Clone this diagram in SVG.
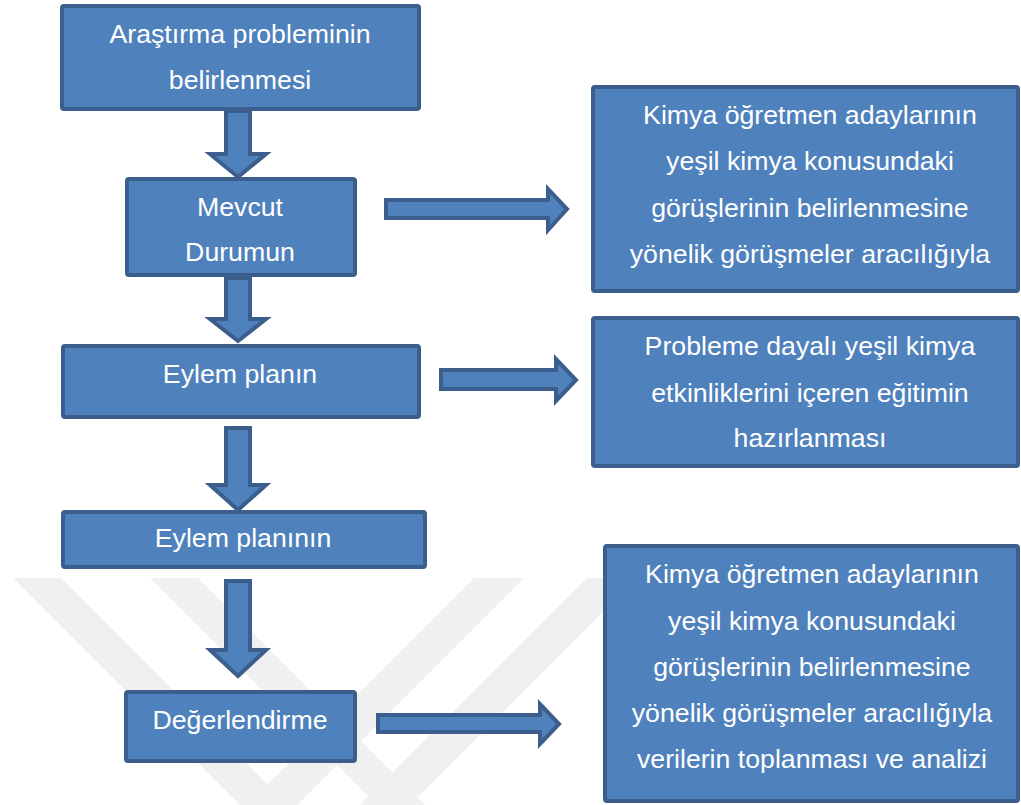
<svg xmlns="http://www.w3.org/2000/svg" width="1021" height="805" viewBox="0 0 1021 805">
<style>
.box{fill:#4f81bd;stroke:#3b5e8c;stroke-width:4}
.arr{fill:#4f81bd;stroke:#3b5e8c;stroke-width:4;stroke-linejoin:miter}
.wm{fill:#f0f0f0}
text{font-family:"Liberation Sans",Arial,sans-serif;font-size:26.7px;fill:#ffffff;text-anchor:middle}
</style>
<rect width="1021" height="805" fill="#ffffff"/>
<g id="watermark">
<polygon class="wm" points="13,578 61,578 288,805 240,805"/>
<polygon class="wm" points="474,578 524,578 297,805 247,805"/>
<polygon class="wm" points="150,578 198,578 425,805 377,805"/>
<polygon class="wm" points="587,578 637,578 410,805 360,805"/>
</g>
<g id="connectors">
<path class="arr" d="M226,111 L250,111 L250,154 L266,154 L238,177 L210,154 L226,154 Z"/>
<path class="arr" d="M226,278 L250,278 L250,319 L266,319 L238,341 L210,319 L226,319 Z"/>
<path class="arr" d="M226,428 L250,428 L250,485 L266,485 L238,510 L210,485 L226,485 Z"/>
<path class="arr" d="M226,581 L250,581 L250,650 L266,650 L238,676 L210,650 L226,650 Z"/>
<path class="arr" d="M386,200 L548,200 L548,189 L567,209 L548,230 L548,218 L386,218 Z"/>
<path class="arr" d="M441,370 L556,370 L556,359 L576,380 L556,401 L556,389 L441,389 Z"/>
<path class="arr" d="M378,715 L540,715 L540,704 L559,724 L540,744 L540,732 L378,732 Z"/>
</g>
<g id="n1">
<rect class="box" x="62" y="6" width="357" height="103" rx="2"/>
<text x="240" y="43">Araştırma probleminin</text>
<text x="240" y="89">belirlenmesi</text>
</g>
<g id="n2">
<rect class="box" x="127" y="179" width="228" height="96" rx="2"/>
<text x="240" y="216">Mevcut</text>
<text x="240" y="261">Durumun</text>
</g>
<g id="n3">
<rect class="box" x="63" y="346" width="356" height="71" rx="2"/>
<text x="240" y="383">Eylem planın</text>
</g>
<g id="n4">
<rect class="box" x="63" y="512" width="362" height="55" rx="2"/>
<text x="243" y="547">Eylem planının</text>
</g>
<g id="n5">
<rect class="box" x="126" y="692" width="229" height="69" rx="2"/>
<text x="240" y="729">Değerlendirme</text>
</g>
<g id="r1">
<rect class="box" x="593" y="87" width="425" height="204" rx="2"/>
<text x="810" y="124">Kimya öğretmen adaylarının</text>
<text x="810" y="170">yeşil kimya konusundaki</text>
<text x="810" y="217">görüşlerinin belirlenmesine</text>
<text x="810" y="263">yönelik görüşmeler aracılığıyla</text>
</g>
<g id="r2">
<rect class="box" x="593" y="318" width="425" height="148" rx="2"/>
<text x="810" y="355">Probleme dayalı yeşil kimya</text>
<text x="810" y="402">etkinliklerini içeren eğitimin</text>
<text x="810" y="447">hazırlanması</text>
</g>
<g id="r3">
<rect class="box" x="605" y="546" width="413" height="255" rx="2"/>
<text x="812" y="583">Kimya öğretmen adaylarının</text>
<text x="812" y="630">yeşil kimya konusundaki</text>
<text x="812" y="676">görüşlerinin belirlenmesine</text>
<text x="812" y="722">yönelik görüşmeler aracılığıyla</text>
<text x="812" y="768">verilerin toplanması ve analizi</text>
</g>
</svg>
